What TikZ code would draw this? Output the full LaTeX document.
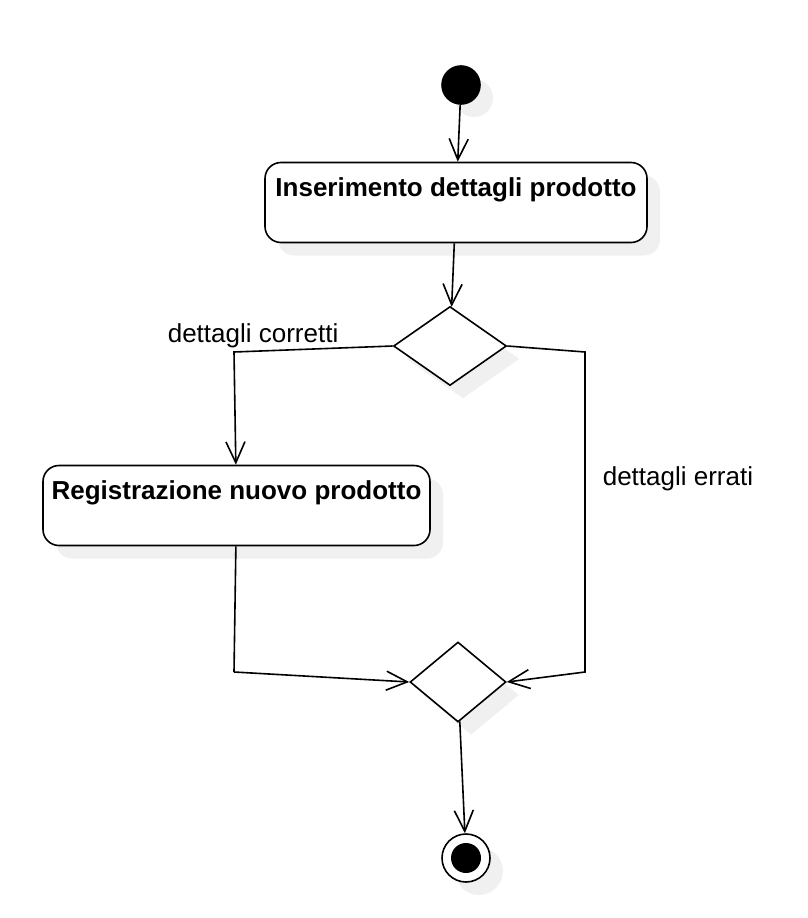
\documentclass[tikz,border=0pt]{standalone}
\usepackage{fontspec}
\setmainfont{Liberation Sans}
\usetikzlibrary{arrows.meta,shapes.geometric,shadows}
\begin{document}
\begin{tikzpicture}[x=1pt,y=-1pt,line width=1.6pt,
	shd/.style={drop shadow={shadow xshift=13pt,shadow yshift=-13pt,fill=gray!12,opacity=1}},
	arr/.style={-{Straight Barb[length=21pt,width=19pt,line width=1.6pt]}},
	act/.style={draw,fill=white,rounded corners=16pt,shd,inner sep=4pt,text height=30pt,text depth=42pt,
		font=\fontsize{26}{30}\selectfont\bfseries},
	dec/.style={draw,fill=white,diamond,shd,inner sep=0pt,minimum width=113pt,minimum height=79pt},
	lbl/.style={inner sep=0pt,font=\fontsize{26}{30}\selectfont}]
	\useasboundingbox (0,0) rectangle (808,918);
	% nodes
	\node[draw,fill=black,circle,minimum size=38pt,inner sep=0pt,shd] (start) at (461,85) {};
	\node[act,minimum width=382pt] (ins) at (456,202.5) {Inserimento dettagli prodotto};
	\node[dec] (chk) at (450,346) {};
	\node[act,minimum width=387pt] (reg) at (236.5,505.5) {Registrazione nuovo prodotto};
	\node[dec,minimum width=96pt,minimum height=80pt] (merge) at (458,682) {};
	\node[draw,fill=white,circle,minimum size=48pt,inner sep=0pt,shd,
		path picture={\fill[black] (path picture bounding box.center) circle (15pt);}] (end) at (466,858) {};
	% labels
	\node[lbl,anchor=base west] (lc) at (167,342) {dettagli corretti};
	\node[lbl,anchor=base west] (le) at (602,485) {dettagli errati};
	% bends
	\coordinate (cl) at (234,352);
	\coordinate (cm) at (234,672);
	\coordinate (cr) at (585,352);
	\coordinate (cb) at (585,672);
	% connectors
	\draw[arr] (start) -- (ins);
	\draw[arr] (ins) -- (chk);
	\draw[arr] (chk.west) -- (cl) -- (reg);
	\draw (reg) -- (cm);
	\draw[arr] (cm) -- (merge.west);
	\draw[arr] (chk.east) -- (cr) -- (cb) -- (merge.east);
	\draw[arr] (merge) -- (end);
\end{tikzpicture}
\end{document}
